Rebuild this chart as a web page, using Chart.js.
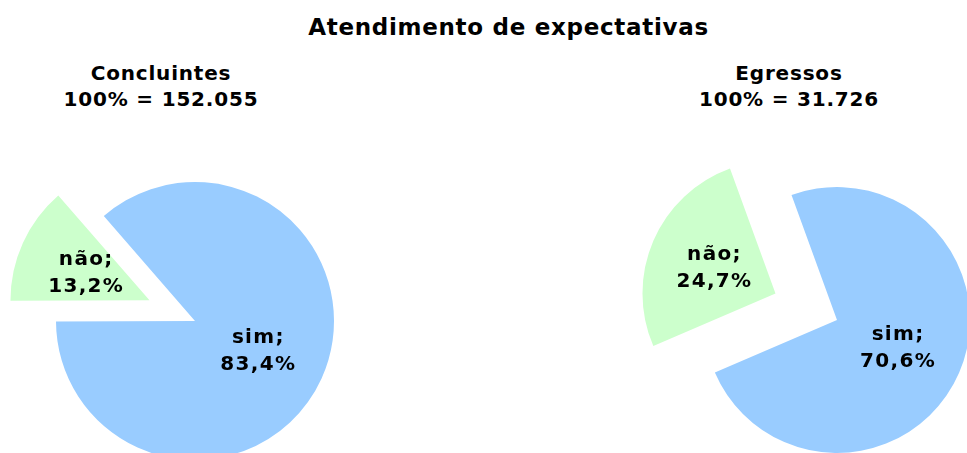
<!DOCTYPE html>
<html>
<head>
    <title>Atendimento de expectativas</title>
    <script src="https://cdn.jsdelivr.net/npm/chart.js"></script>
    <style>
        body { margin: 0; width: 967px; height: 453px; overflow: hidden; position: relative; background: #fff;
               font-family: "DejaVu Sans", Verdana, sans-serif; font-weight: bold; color: #000; }
        .title { position: absolute; left: 0; width: 1017px; top: 14px; text-align: center; font-size: 23px; letter-spacing: 0.7px; }
        .sub { position: absolute; top: 60px; width: 400px; text-align: center; font-size: 20px; line-height: 26px; letter-spacing: 0.8px; }
        canvas { position: absolute; }
    </style>
</head>
<body>
    <div class="title">Atendimento de expectativas</div>
    <div class="sub" id="sub0" style="left:-39px"></div>
    <div class="sub" id="sub1" style="left:589px"></div>
    <canvas id="pie0" width="440" height="440" style="left:-25px; top:101px"></canvas>
    <canvas id="pie1" width="440" height="440" style="left:617px; top:100px"></canvas>

    <script>
        const groups = ['Concluintes', 'Egressos'];
        const totals = ['152.055', '31.726'];
        const answers = ['sim', 'não'];
        const concluintes = [83.4, 13.2];
        const egressos = [70.6, 24.7];
        const colors = ['#99CCFF', '#CCFFCC'];

        // pulls the "não" slice out of the pie along its bisector
        const explodePlugin = {
            id: 'explode',
            afterDatasetUpdate(chart, args, opts) {
                const arcs = args.meta.data;
                (opts.distance || []).forEach((d, i) => {
                    const arc = arcs[i];
                    if (!arc || !d) return;
                    const mid = (arc.startAngle + arc.endAngle) / 2;
                    arc.x += Math.cos(mid) * d;
                    arc.y += Math.sin(mid) * d;
                });
            }
        };

        const sliceLabels = {
            id: 'sliceLabels',
            afterDatasetsDraw(chart) {
                const ctx = chart.ctx;
                const ds = chart.data.datasets[0];
                ctx.save();
                ctx.font = 'bold 20px "DejaVu Sans", Verdana, sans-serif';
                ctx.letterSpacing = '1.3px';
                ctx.fillStyle = '#000';
                ctx.textAlign = 'center';
                ctx.textBaseline = 'middle';
                chart.getDatasetMeta(0).data.forEach((arc, i) => {
                    const p = arc.tooltipPosition();
                    const pct = ds.data[i].toFixed(1).replace('.', ',') + '%';
                    ctx.fillText(chart.data.labels[i] + ';', p.x, p.y - 12);
                    ctx.fillText(pct, p.x, p.y + 15);
                });
                ctx.restore();
            }
        };

        function makePie(id, values, rotation, radius, explode) {
            return new Chart(document.getElementById(id), {
                type: 'pie',
                data: {
                    labels: answers,
                    datasets: [{
                        data: values,
                        backgroundColor: colors,
                        borderWidth: 0
                    }]
                },
                options: {
                    responsive: false,
                    animation: false,
                    rotation: rotation,
                    radius: radius,
                    plugins: {
                        legend: { display: false },
                        tooltip: { enabled: false },
                        explode: { distance: [0, explode] }
                    }
                },
                plugins: [explodePlugin, sliceLabels]
            });
        }

        [0, 1].forEach(i => {
            document.getElementById('sub' + i).innerHTML = groups[i] + '<br>100% = ' + totals[i];
        });

        makePie('pie0', concluintes, -41, 139, 50);
        makePie('pie1', egressos, -20, 133, 67);
    </script>
</body>
</html>
